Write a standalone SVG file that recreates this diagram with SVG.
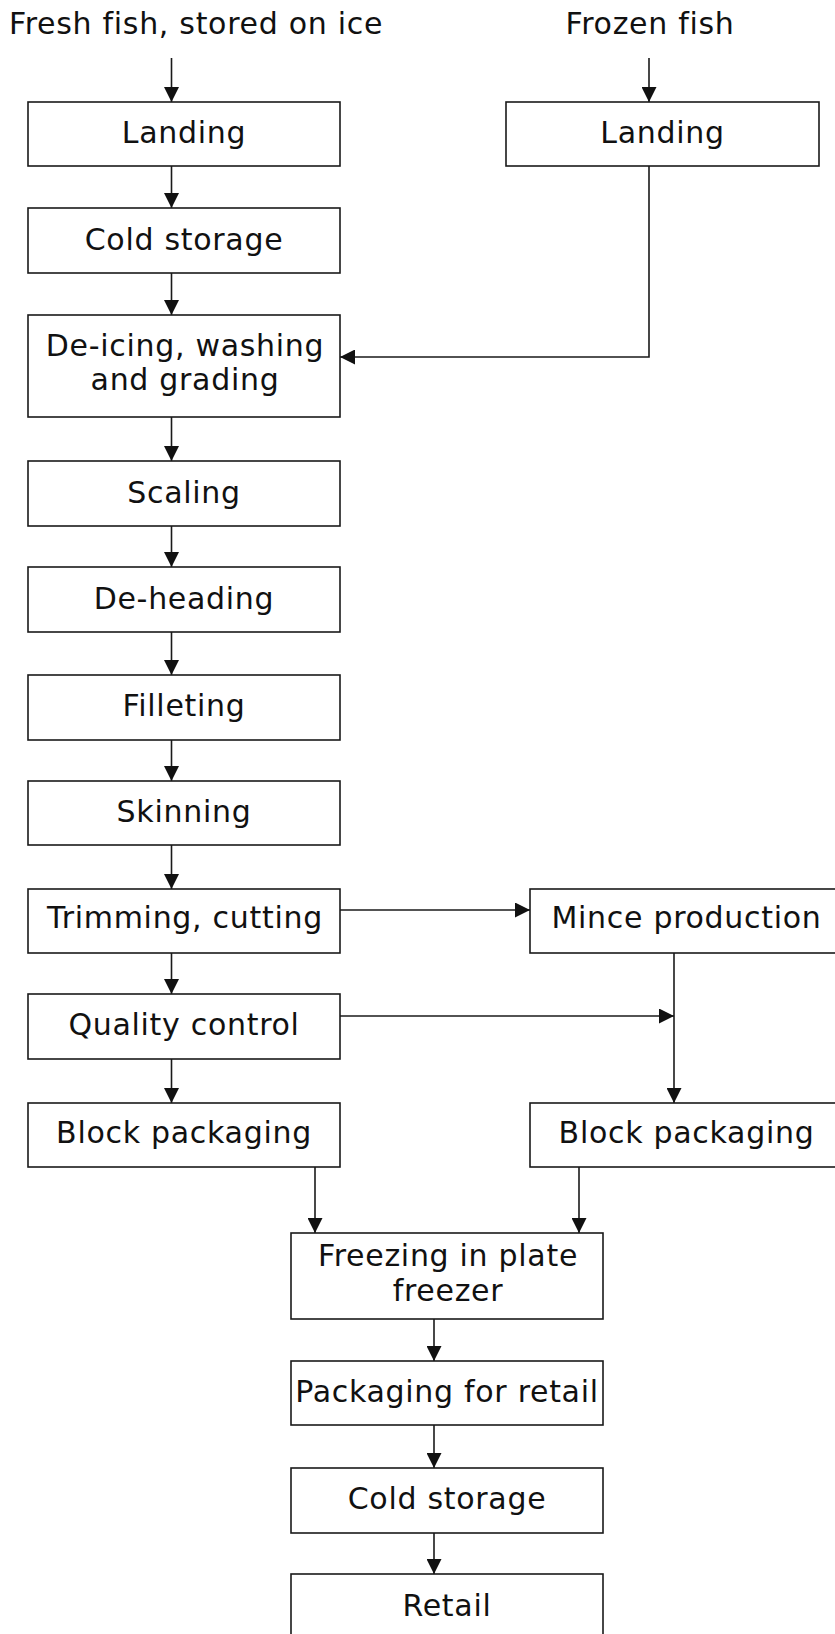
<svg xmlns="http://www.w3.org/2000/svg" width="835" height="1634" viewBox="0 0 835 1634">
  <defs>
    <marker id="arrow" viewBox="0 0 15 15" markerWidth="15" markerHeight="15" refX="15" refY="7.5" orient="auto" markerUnits="userSpaceOnUse">
      <path d="M0,0 L15,7.5 L0,15 z" fill="#111"/>
    </marker>
    <style>
      rect { fill: #fff; stroke: #1a1a1a; stroke-width: 1.6; }
      text { font-family: "DejaVu Sans", Verdana, sans-serif; font-size: 30px; letter-spacing: 0.7px; fill: #111; text-anchor: middle; }
      .conn { fill: none; stroke: #1a1a1a; stroke-width: 1.6; }
      .arr { marker-end: url(#arrow); }
    </style>
  </defs>

  <rect x="0" y="0" width="835" height="1634" style="fill:#fff;stroke:none"/>

  <!-- source labels -->
  <g id="src-fresh"><text x="196" y="34">Fresh fish, stored on ice</text></g>
  <g id="src-frozen"><text x="650" y="34">Frozen fish</text></g>

  <!-- connectors -->
  <g id="connectors">
    <path class="conn arr" d="M171.5,58 V102"/>
    <path class="conn arr" d="M649,58 V102"/>
    <path class="conn arr" d="M171.5,166 V208"/>
    <path class="conn arr" d="M171.5,273 V315"/>
    <path class="conn arr" d="M649,166 V357 H340"/>
    <path class="conn arr" d="M171.5,417 V461"/>
    <path class="conn arr" d="M171.5,526 V567"/>
    <path class="conn arr" d="M171.5,632 V675"/>
    <path class="conn arr" d="M171.5,740 V781"/>
    <path class="conn arr" d="M171.5,845 V889"/>
    <path class="conn arr" d="M340,910 H530"/>
    <path class="conn arr" d="M171.5,953 V994"/>
    <path class="conn arr" d="M340,1016 H674"/>
    <path class="conn arr" d="M674,953 V1103"/>
    <path class="conn arr" d="M171.5,1059 V1103"/>
    <path class="conn arr" d="M315,1167 V1233"/>
    <path class="conn arr" d="M579,1167 V1233"/>
    <path class="conn arr" d="M434,1319 V1361"/>
    <path class="conn arr" d="M434,1425 V1468"/>
    <path class="conn arr" d="M434,1533 V1574"/>
  </g>

  <!-- fresh fish line -->
  <g id="landing-fresh"><rect x="28" y="102" width="312" height="64"/><text x="184" y="143">Landing</text></g>
  <g id="cold-storage-1"><rect x="28" y="208" width="312" height="65"/><text x="184" y="250">Cold storage</text></g>
  <g id="deicing"><rect x="28" y="315" width="312" height="102"/><text x="185" y="356">De-icing, washing</text><text x="185" y="390">and grading</text></g>
  <g id="scaling"><rect x="28" y="461" width="312" height="65"/><text x="184" y="503">Scaling</text></g>
  <g id="deheading"><rect x="28" y="567" width="312" height="65"/><text x="184" y="609">De-heading</text></g>
  <g id="filleting"><rect x="28" y="675" width="312" height="65"/><text x="184" y="716">Filleting</text></g>
  <g id="skinning"><rect x="28" y="781" width="312" height="64"/><text x="184" y="822">Skinning</text></g>
  <g id="trimming"><rect x="28" y="889" width="312" height="64"/><text x="185" y="928">Trimming, cutting</text></g>
  <g id="quality"><rect x="28" y="994" width="312" height="65"/><text x="184" y="1035">Quality control</text></g>
  <g id="block-left"><rect x="28" y="1103" width="312" height="64"/><text x="184" y="1143">Block packaging</text></g>

  <!-- frozen fish line -->
  <g id="landing-frozen"><rect x="506" y="102" width="313" height="64"/><text x="662.5" y="143">Landing</text></g>

  <!-- mince branch -->
  <g id="mince"><rect x="530" y="889" width="320" height="64"/><text x="686.5" y="928">Mince production</text></g>
  <g id="block-right"><rect x="530" y="1103" width="320" height="64"/><text x="686.5" y="1143">Block packaging</text></g>

  <!-- final stages -->
  <g id="freezing"><rect x="291" y="1233" width="312" height="86"/><text x="448" y="1266">Freezing in plate</text><text x="448" y="1301">freezer</text></g>
  <g id="retail-pack"><rect x="291" y="1361" width="312" height="64"/><text x="447" y="1402">Packaging for retail</text></g>
  <g id="cold-storage-2"><rect x="291" y="1468" width="312" height="65"/><text x="447" y="1509">Cold storage</text></g>
  <g id="retail"><rect x="291" y="1574" width="312" height="70"/><text x="447" y="1616">Retail</text></g>
</svg>
